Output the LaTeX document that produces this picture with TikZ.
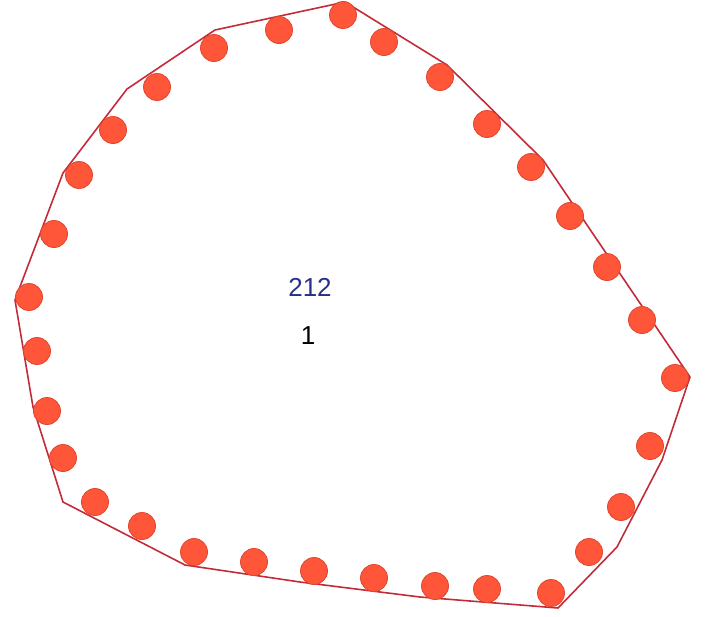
\documentclass[tikz,border=0pt]{standalone}
\usepackage{fontspec}
\setmainfont{Liberation Sans}
\definecolor{dotfill}{HTML}{FF5538}
\definecolor{dotedge}{HTML}{E0452E}
\definecolor{edgered}{HTML}{C42B38}
\definecolor{labelblue}{HTML}{2B2F8C}
\begin{document}
\begin{tikzpicture}[x=1pt,y=-1pt,
  dotstyle/.style={circle,fill=dotfill,draw=dotedge,line width=0.8pt,minimum size=27pt,inner sep=0pt},
  outline/.style={draw=edgered,line width=1.6pt,line join=round},
  lbl/.style={font=\fontsize{26}{30}\selectfont,inner sep=0pt}]
\useasboundingbox (0,0) rectangle (707,616);
\draw[outline] (345,2) -- (447,65) -- (543,160) -- (690,377) -- (662,460) -- (617,547) -- (558,608)
  -- (420,597) -- (300,582) -- (185,565) -- (63,502) -- (33,407) -- (15,300) -- (63,173) -- (127,89) -- (215,30) -- cycle;
\foreach \x/\y [count=\i] in {343/15,384/42,440/77,487/124,531/167,570/216,607/267,642/320,675/378,650/446,621/507,589/552,551/593,487/589,435/586,374/578,314/571,254/562,194/552,142/526,95/502,63/458,47/411,37/351,29/297,54/234,79/175,113/130,157/87,214/48,279/30}
  \node[dotstyle] (d\i) at (\x,\y) {};
\node[lbl,text=labelblue] (area) at (310,287) {212};
\node[lbl,text=black] (num) at (308,336) {1};
\end{tikzpicture}
\end{document}
